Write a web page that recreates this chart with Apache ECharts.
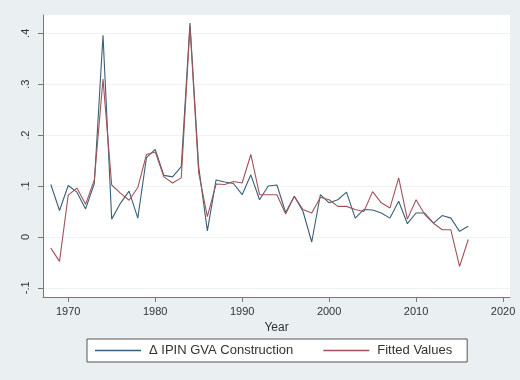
<!DOCTYPE html>
<html>
<head>
<meta charset="utf-8">
<script src="https://cdn.jsdelivr.net/npm/echarts@6/dist/echarts.min.js"></script>
<style>
html,body{margin:0;padding:0;background:#eaf0f2;}
#c{width:520px;height:380px;}
</style>
</head>
<body>
<div id="c"></div>
<script>
const years = [1968,1969,1970,1971,1972,1973,1974,1975,1976,1977,1978,1979,1980,1981,1982,1983,1984,1985,1986,1987,1988,1989,1990,1991,1992,1993,1994,1995,1996,1997,1998,1999,2000,2001,2002,2003,2004,2005,2006,2007,2008,2009,2010,2011,2012,2013,2014,2015,2016];
const actual = [0.103,0.052,0.101,0.088,0.055,0.105,0.396,0.035,0.066,0.090,0.037,0.156,0.172,0.121,0.118,0.138,0.420,0.138,0.012,0.112,0.108,0.105,0.083,0.122,0.073,0.100,0.102,0.048,0.080,0.050,-0.010,0.083,0.067,0.073,0.088,0.037,0.054,0.053,0.047,0.037,0.070,0.026,0.047,0.047,0.027,0.042,0.037,0.011,0.021];
const fitted = [-0.022,-0.048,0.082,0.096,0.064,0.112,0.310,0.102,0.086,0.072,0.097,0.162,0.167,0.118,0.106,0.116,0.414,0.126,0.040,0.104,0.103,0.109,0.106,0.162,0.083,0.083,0.083,0.045,0.080,0.054,0.047,0.078,0.073,0.060,0.060,0.054,0.050,0.089,0.067,0.057,0.116,0.035,0.073,0.044,0.027,0.014,0.014,-0.058,-0.005];
const xTicks = [1970,1980,1990,2000,2010,2020];
const yTicks = [-0.1,0,0.1,0.2,0.3,0.4];
const yTickLabels = ['-.1','0','.1','.2','.3','.4'];
const seriesNames = ['\u0394 IPIN GVA Construction','Fitted Values'];

const chart = echarts.init(document.getElementById('c'));
const font = 'Liberation Sans, Arial, sans-serif';
chart.setOption({
  backgroundColor: '#eaf0f2',
  animation: false,
  grid: {left: 43, right: 10, top: 15, bottom: 83, show: true, backgroundColor: '#ffffff', borderWidth: 0},
  legend: {
    left: 87, top: 339,
    padding: [5, 15, 5, 8],
    icon: 'rect',
    itemWidth: 46, itemHeight: 1.4, itemGap: 30,
    backgroundColor: '#ffffff',
    borderColor: '#555555', borderWidth: 1, borderRadius: 0,
    textStyle: {fontFamily: font, fontSize: 13, color: '#333', padding: [0, 0, 0, 3]},
    data: seriesNames
  },
  xAxis: {
    type: 'value', min: 1967.1, max: 2020.8,
    name: 'Year', nameLocation: 'middle', nameGap: 25,
    nameTextStyle: {fontFamily: font, fontSize: 12, color: '#333'},
    axisLine: {show: true, onZero: false, lineStyle: {color: '#777', width: 1}},
    axisTick: {show: true, length: 5, lineStyle: {color: '#777'}, customValues: xTicks},
    axisLabel: {fontFamily: font, fontSize: 11, color: '#333', margin: 9, customValues: xTicks, formatter: v => String(v)},
    splitLine: {show: false}
  },
  yAxis: {
    type: 'value', min: -0.118, max: 0.436,
    axisLine: {show: true, lineStyle: {color: '#777', width: 1}},
    axisTick: {show: true, length: 5, lineStyle: {color: '#777'}, customValues: yTicks},
    axisLabel: {fontFamily: font, fontSize: 11, color: '#333', rotate: 90, margin: 12,
      customValues: yTicks,
      formatter: v => { const i = yTicks.findIndex(t => Math.abs(t - v) < 1e-6); return i >= 0 ? yTickLabels[i] : ''; }},
    splitLine: {show: true, lineStyle: {color: '#eef3f4', width: 1}}
  },
  series: [
    {name: seriesNames[0], type: 'line', symbol: 'none', showSymbol: false,
     lineStyle: {color: '#3a6078', width: 1.1}, itemStyle: {color: '#3a6078'},
     data: years.map((y, i) => [y, actual[i]])},
    {name: seriesNames[1], type: 'line', symbol: 'none', showSymbol: false,
     lineStyle: {color: '#a0545a', width: 1.1}, itemStyle: {color: '#a0545a'},
     data: years.map((y, i) => [y, fitted[i]])}
  ]
});
</script>
</body>
</html>
